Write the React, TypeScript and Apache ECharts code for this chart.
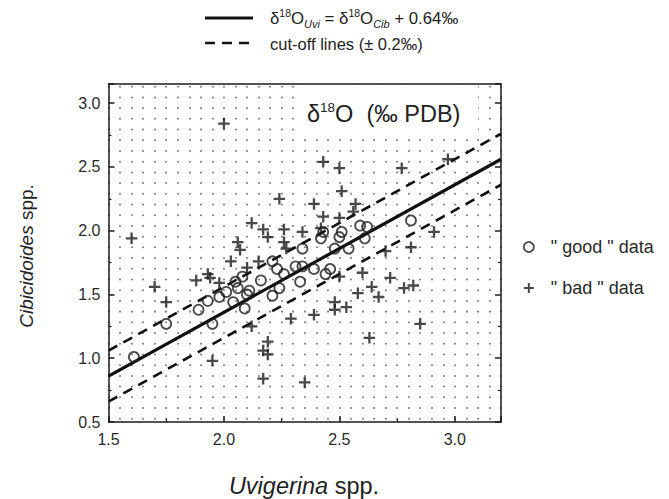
import React, { useEffect, useRef } from "react";
import * as echarts from "echarts";

const FONT = '"Liberation Sans", Arial, Helvetica, sans-serif';
const INK = "#1c1c1c";

// Axis ranges and tick labels
const xRange = [1.5, 3.2];
const yRange = [0.5, 3.15];
const xTickLabels = ["1.5", "2.0", "2.5", "3.0"];
const yTickLabels = ["0.5", "1.0", "1.5", "2.0", "2.5", "3.0"];

// Relation lines: δ18O_Uvi = δ18O_Cib + 0.64‰, cut-off ±0.2‰ (end points)
const fitLine = [[1.5, 0.86], [3.2, 2.56]];
const upperCutoff = [[1.5, 1.06], [3.2, 2.76]];
const lowerCutoff = [[1.5, 0.66], [3.2, 2.36]];

// "good" data (open circles): [Uvigerina, Cibicidoides]
const goodData = [
  [1.61, 1.01], [1.75, 1.27], [1.89, 1.38], [1.93, 1.45], [1.95, 1.27],
  [1.98, 1.48], [2.01, 1.52], [2.04, 1.44], [2.05, 1.6], [2.06, 1.55],
  [2.08, 1.64], [2.1, 1.5], [2.11, 1.53], [2.09, 1.39], [2.16, 1.61],
  [2.21, 1.76], [2.23, 1.7], [2.26, 1.66], [2.31, 1.72], [2.24, 1.55],
  [2.21, 1.49], [2.34, 1.72], [2.39, 1.7], [2.46, 1.7], [2.44, 1.66],
  [2.33, 1.6], [2.34, 1.86], [2.42, 1.94], [2.43, 1.99], [2.51, 1.99],
  [2.5, 1.95], [2.48, 1.86], [2.54, 1.86], [2.59, 2.04], [2.62, 2.03],
  [2.61, 1.94], [2.81, 2.08],
];

// "bad" data (plus signs)
const badData = [
  [1.6, 1.94], [2.0, 2.84], [2.24, 2.25], [2.12, 2.06], [2.17, 2.01],
  [2.26, 2.01], [2.43, 2.54], [2.5, 2.49], [2.77, 2.49], [2.97, 2.56],
  [2.51, 2.31], [2.39, 2.21], [2.57, 2.21], [2.56, 2.15], [2.43, 2.11],
  [2.5, 2.1], [2.34, 1.99], [2.42, 2.02], [2.91, 1.99], [2.7, 1.84],
  [2.81, 1.87], [2.5, 1.64], [2.6, 1.67], [2.72, 1.63], [2.64, 1.56],
  [2.67, 1.48], [2.58, 1.51], [2.78, 1.55], [2.82, 1.57], [2.48, 1.44],
  [2.48, 1.38], [2.53, 1.4], [2.39, 1.34], [2.29, 1.31], [2.85, 1.27],
  [2.63, 1.16], [2.35, 0.81], [1.7, 1.56], [1.75, 1.44], [1.88, 1.61],
  [1.93, 1.66], [1.94, 1.63], [1.98, 1.59], [2.03, 1.76], [2.06, 1.91],
  [2.07, 1.85], [2.1, 1.71], [2.15, 1.76], [2.19, 1.95], [2.26, 1.91],
  [2.27, 1.86], [2.12, 1.25], [2.19, 1.13], [2.17, 1.06], [2.19, 1.03],
  [1.95, 0.98], [2.17, 0.84],
];

const GOOD = '" good " data';
const BAD = '" bad " data';
const PLUS = "path://M4,0H6V4H10V6H6V10H4V6H0V4H4Z";

const labelFor = (labels: string[]) => (v: number) => {
  const s = v.toFixed(1);
  return Math.abs(v * 2 - Math.round(v * 2)) < 1e-6 && labels.includes(s) ? s : "";
};

export default function App() {
  const ref = useRef<HTMLDivElement>(null);
  useEffect(() => {
    if (!ref.current) return;
    const chart = echarts.init(ref.current, null, { renderer: "svg" });
    const frame = { show: true, onZero: false, lineStyle: { color: INK, width: 1.5 } };
    const tick = { show: true, inside: true, length: 6, lineStyle: { color: INK, width: 1.5 } };
    const minor = { show: true, splitNumber: 2, length: 3, lineStyle: { color: INK, width: 1.2 } };
    const dotStyle = { color: "#7a7a7a", width: 2, type: [0.01, 10.7], cap: "round", dashOffset: 8 };
    const option: any = {
      animation: false,
      textStyle: { fontFamily: FONT },
      grid: { left: 108.5, right: 168, top: 84, bottom: 77, outerBoundsMode: "none" },
      xAxis: [
        {
          type: "value", position: "bottom", min: xRange[0], max: xRange[1], interval: 0.5,
          axisLine: frame, axisTick: tick, minorTick: minor,
          axisLabel: { formatter: labelFor(xTickLabels), fontSize: 16, color: "#2a2a2a", margin: 9, fontFamily: FONT },
          splitLine: { show: false },
        },
        {
          type: "value", position: "top", min: xRange[0], max: xRange[1], interval: 0.05,
          axisLine: frame, axisTick: { show: false }, axisLabel: { show: false },
          splitLine: { show: true, lineStyle: dotStyle },
        },
      ],
      yAxis: [
        {
          type: "value", position: "left", min: yRange[0], max: yRange[1], interval: 0.5,
          axisLine: frame, axisTick: tick, minorTick: minor,
          axisLabel: { formatter: labelFor(yTickLabels), fontSize: 16, color: "#2a2a2a", margin: 8, fontFamily: FONT },
          splitLine: { show: false },
        },
        {
          type: "value", position: "right", min: yRange[0], max: yRange[1], interval: 0.5,
          axisLine: frame, axisTick: tick, minorTick: minor,
          axisLabel: { show: false }, splitLine: { show: false },
        },
      ],
      legend: {
        orient: "vertical", left: 518, top: 233, itemWidth: 10, itemHeight: 10, itemGap: 23,
        selectedMode: false,
        textStyle: { fontSize: 18, color: "#2a2a2a", fontFamily: FONT, padding: [0, 0, 0, 12] },
        data: [
          { name: GOOD, icon: "circle", itemStyle: { color: "rgba(0,0,0,0)", borderColor: INK, borderWidth: 1.7 } },
          { name: BAD, icon: PLUS, itemStyle: { color: INK, borderWidth: 0 } },
        ],
      },
      series: [
        { type: "line", name: "fit", data: fitLine, symbol: "none", lineStyle: { color: "#111", width: 3.2 }, z: 3 },
        { type: "line", name: "cutoff upper", data: upperCutoff, symbol: "none", lineStyle: { color: "#111", width: 2.6, type: [10, 7] }, z: 3 },
        { type: "line", name: "cutoff lower", data: lowerCutoff, symbol: "none", lineStyle: { color: "#111", width: 2.6, type: [10, 7] }, z: 3 },
        {
          type: "scatter", name: GOOD, data: goodData, symbol: "circle", symbolSize: 10,
          itemStyle: { color: "rgba(0,0,0,0)", borderColor: INK, borderWidth: 1.8 }, z: 4,
        },
        {
          type: "scatter", name: BAD, data: badData, symbol: PLUS, symbolSize: 11.5,
          itemStyle: { color: INK }, z: 4,
        },
      ],
      graphic: [
        { type: "line", z: 10, shape: { x1: 205, y1: 18, x2: 253, y2: 18 }, style: { stroke: "#111", lineWidth: 3 } },
        { type: "line", z: 10, shape: { x1: 205, y1: 43, x2: 251, y2: 43 }, style: { stroke: "#111", lineWidth: 2.6, lineDash: [10, 7] } },
        {
          type: "text", z: 10, x: 270, y: 18,
          style: {
            text: "{n|δ}{sup|18}{n|O}{sub|Uvi}{n| = δ}{sup|18}{n|O}{sub|Cib}{n| + 0.64‰}",
            verticalAlign: "middle", align: "left", fill: "#222",
            rich: {
              n: { fontSize: 16.8, fontFamily: FONT, fill: "#222", lineHeight: 22, verticalAlign: "middle" },
              sup: { fontSize: 10.5, fontFamily: FONT, fill: "#222", lineHeight: 10, verticalAlign: "top" },
              sub: { fontSize: 11, fontFamily: FONT, fontStyle: "italic", fill: "#222", lineHeight: 10, verticalAlign: "bottom" },
            },
          },
        },
        {
          type: "text", z: 10, x: 270, y: 44,
          style: { text: "cut-off lines (± 0.2‰)", fontSize: 16.5, fontFamily: FONT, fill: "#222", verticalAlign: "middle" },
        },
        { type: "rect", z: 5, shape: { x: 298, y: 86, width: 180, height: 48 }, style: { fill: "#fff" } },
        {
          type: "text", z: 6, x: 307, y: 114,
          style: {
            text: "{n|δ}{sup|18}{n|O  (‰ PDB)}",
            verticalAlign: "middle", align: "left", fill: "#222",
            rich: {
              n: { fontSize: 23.5, fontFamily: FONT, fill: "#222", lineHeight: 28, verticalAlign: "middle" },
              sup: { fontSize: 13.5, fontFamily: FONT, fill: "#222", lineHeight: 13, verticalAlign: "top" },
            },
          },
        },
        {
          type: "text", z: 10, x: 26, y: 256, rotation: Math.PI / 2,
          style: {
            text: "{i|Cibicidoides}{n| spp.}", align: "center", verticalAlign: "middle",
            rich: {
              i: { fontSize: 19, fontFamily: FONT, fontStyle: "italic", fill: "#222" },
              n: { fontSize: 19, fontFamily: FONT, fill: "#222" },
            },
          },
        },
        {
          type: "text", z: 10, x: 304, y: 486,
          style: {
            text: "{i|Uvigerina}{n| spp.}", align: "center", verticalAlign: "middle",
            rich: {
              i: { fontSize: 23.5, fontFamily: FONT, fontStyle: "italic", fill: "#222" },
              n: { fontSize: 23.5, fontFamily: FONT, fill: "#222" },
            },
          },
        },
      ],
    };
    chart.setOption(option);
    return () => chart.dispose();
  }, []);
  return (
    <div
      ref={ref}
      style={{ position: "fixed", left: 0, top: 0, width: 669, height: 499, background: "#fff" }}
    />
  );
}
